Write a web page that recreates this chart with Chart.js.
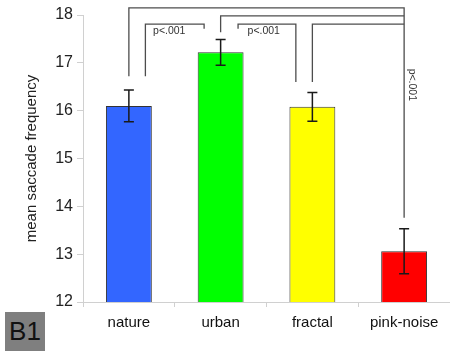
<!DOCTYPE html>
<html>
<head>
<meta charset="utf-8">
<script src="https://cdn.jsdelivr.net/npm/chart.js@4/dist/chart.umd.min.js"></script>
<style>
  html, body { margin: 0; padding: 0; background: #fff; }
  #wrap { position: relative; width: 450px; height: 351px; }
  #panel-tag {
    position: absolute; left: 5px; top: 312px; width: 40px; height: 39px;
    background: #7f7f7f; color: #111; font: 26px "Liberation Sans", Arial, sans-serif;
    line-height: 39px; text-align: center;
  }
</style>
</head>
<body>
<div id="wrap">
  <canvas id="chart" width="450" height="351"></canvas>
  <div id="panel-tag">B1</div>
</div>
<script>
const categories = ["nature", "urban", "fractal", "pink-noise"];
const means = [16.1, 17.22, 16.08, 13.06];
const errors = [0.33, 0.27, 0.3, 0.47];
const barColors = ["#3366ff", "#00ff00", "#ffff00", "#ff0000"];
const yMin = 12;
const yMax = 18;

// significance brackets: [leftX, leftLegBottom, topLevel, rightX, rightLegBottom]
const brackets = [
  [0.18, 16.72, 17.81, 0.82, 17.71],
  [1.19, 17.71, 17.81, 1.82, 16.6],
  [0, 16.72, 18.15, 3, 13.76],
  [1, 17.64, 17.98, 3, 17.98],
  [2, 16.6, 17.81, 3, 17.81],
];
const pLabels = ["p<.001", "p<.001", "p<.001"];
const pLabelPos = [[0.44, 17.67, 0], [1.47, 17.67, 0], [3.08, 16.54, 90]];

const FONT = "'Liberation Sans', Arial, sans-serif";

const errorBars = {
  id: "errorBars",
  afterDatasetsDraw(chart) {
    const { ctx, scales: { x, y } } = chart;
    ctx.save();
    ctx.strokeStyle = "#1a1a1a";
    ctx.lineWidth = 1.5;
    means.forEach((m, i) => {
      const cx = x.getPixelForValue(i);
      const top = y.getPixelForValue(m + errors[i]);
      const bot = y.getPixelForValue(m - errors[i]);
      ctx.beginPath();
      ctx.moveTo(cx, top); ctx.lineTo(cx, bot);
      ctx.moveTo(cx - 5, top); ctx.lineTo(cx + 5, top);
      ctx.moveTo(cx - 5, bot); ctx.lineTo(cx + 5, bot);
      ctx.stroke();
    });
    ctx.restore();
  },
};

const sigBrackets = {
  id: "sigBrackets",
  afterDraw(chart) {
    const { ctx, scales: { x, y } } = chart;
    ctx.save();
    ctx.strokeStyle = "#4d4d4d";
    ctx.lineWidth = 1.3;
    brackets.forEach(([lx, lb, lvl, rx, rb]) => {
      ctx.beginPath();
      ctx.moveTo(x.getPixelForValue(lx), y.getPixelForValue(lb));
      ctx.lineTo(x.getPixelForValue(lx), y.getPixelForValue(lvl));
      ctx.lineTo(x.getPixelForValue(rx), y.getPixelForValue(lvl));
      ctx.lineTo(x.getPixelForValue(rx), y.getPixelForValue(rb));
      ctx.stroke();
    });
    ctx.fillStyle = "#333";
    ctx.font = "10.5px " + FONT;
    ctx.textAlign = "center";
    ctx.textBaseline = "middle";
    pLabels.forEach((txt, i) => {
      const [px, py, rot] = pLabelPos[i];
      ctx.save();
      ctx.translate(x.getPixelForValue(px), y.getPixelForValue(py));
      ctx.rotate(rot * Math.PI / 180);
      ctx.fillText(txt, 0, 0);
      ctx.restore();
    });
    ctx.restore();
  },
};

new Chart(document.getElementById("chart"), {
  type: "bar",
  data: {
    labels: categories,
    datasets: [{
      data: means,
      backgroundColor: barColors,
      borderColor: "#333",
      borderWidth: 1,
      barPercentage: 0.5,
      categoryPercentage: 1,
    }],
  },
  options: {
    responsive: false,
    animation: false,
    events: [],
    layout: { padding: { top: 15, right: 0, left: 0, bottom: 0 } },
    plugins: { legend: { display: false }, tooltip: { enabled: false } },
    scales: {
      x: {
        afterFit(scale) { scale.height = 49; },
        border: { display: true, color: "#d0d0d0", width: 1 },
        grid: { display: true, drawOnChartArea: false, drawTicks: true, tickLength: 5, color: "#d0d0d0", offset: true },
        ticks: { color: "#111", font: { family: FONT, size: 15 }, padding: 7, maxRotation: 0 },
      },
      y: {
        min: yMin,
        max: yMax,
        afterFit(scale) { scale.width = 83; },
        border: { display: true, color: "#d0d0d0", width: 1 },
        grid: { display: true, drawOnChartArea: false, drawTicks: true, tickLength: 6, color: "#d0d0d0" },
        ticks: { stepSize: 1, color: "#222", font: { family: FONT, size: 16 }, padding: 4 },
        title: {
          display: true,
          text: "mean saccade frequency",
          color: "#222",
          font: { family: FONT, size: 15 },
          padding: { top: 23, bottom: 0 },
        },
      },
    },
  },
  plugins: [errorBars, sigBrackets],
});
</script>
</body>
</html>
